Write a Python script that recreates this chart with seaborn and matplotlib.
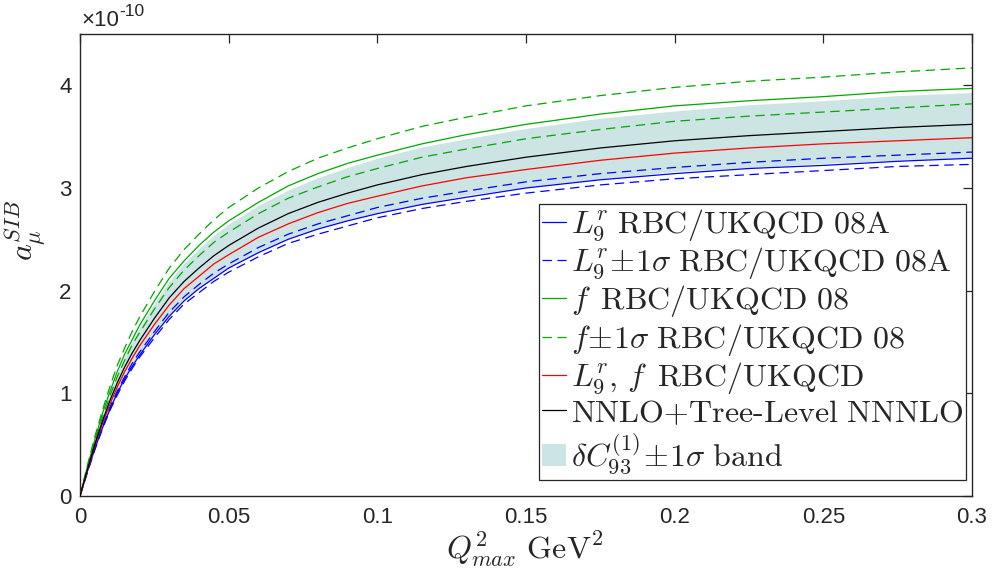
import numpy as np
import pandas as pd
import matplotlib
matplotlib.use("Agg")
import matplotlib.pyplot as plt
import seaborn as sns

# ---- data (values in units of 1e-10) ----
q2 = [0, 0.0025, 0.005, 0.0075, 0.01, 0.0125, 0.015, 0.0175, 0.02, 0.025,
      0.03, 0.035, 0.04, 0.045, 0.05, 0.06, 0.07, 0.08, 0.09, 0.1,
      0.115, 0.13, 0.15, 0.175, 0.2, 0.225, 0.25, 0.275, 0.3]
nnlo = [0, 0.26, 0.505, 0.725, 0.925, 1.10, 1.255, 1.39, 1.51, 1.73,
        1.93, 2.09, 2.22, 2.34, 2.44, 2.61, 2.75, 2.86, 2.95, 3.03,
        3.13, 3.21, 3.30, 3.39, 3.46, 3.51, 3.55, 3.59, 3.62]
f_plus = [0, 0.30, 0.58, 0.83, 1.06, 1.27, 1.44, 1.60, 1.74, 1.99,
          2.22, 2.40, 2.55, 2.69, 2.81, 3.00, 3.16, 3.29, 3.39, 3.48,
          3.60, 3.69, 3.80, 3.90, 3.98, 4.04, 4.08, 4.13, 4.17]
f_central = [0, 0.285, 0.55, 0.80, 1.01, 1.21, 1.38, 1.52, 1.66, 1.90,
             2.12, 2.29, 2.44, 2.57, 2.68, 2.86, 3.02, 3.14, 3.24, 3.32,
             3.43, 3.52, 3.62, 3.72, 3.80, 3.85, 3.89, 3.94, 3.97]
band_hi = [0, 0.28, 0.55, 0.79, 1.00, 1.19, 1.36, 1.51, 1.64, 1.88,
           2.09, 2.27, 2.41, 2.54, 2.65, 2.83, 2.98, 3.10, 3.20, 3.29,
           3.40, 3.48, 3.58, 3.68, 3.75, 3.81, 3.85, 3.90, 3.93]
f_minus = [0, 0.27, 0.53, 0.76, 0.97, 1.16, 1.32, 1.47, 1.59, 1.82,
           2.03, 2.20, 2.34, 2.47, 2.57, 2.75, 2.90, 3.01, 3.11, 3.19,
           3.30, 3.38, 3.48, 3.57, 3.65, 3.70, 3.74, 3.78, 3.82]
l9_f = [0, 0.25, 0.49, 0.70, 0.89, 1.06, 1.21, 1.34, 1.46, 1.67,
        1.86, 2.02, 2.14, 2.26, 2.35, 2.52, 2.65, 2.76, 2.85, 2.92,
        3.02, 3.10, 3.18, 3.27, 3.34, 3.39, 3.43, 3.46, 3.49]
l9_plus = [0, 0.24, 0.47, 0.67, 0.86, 1.02, 1.16, 1.29, 1.40, 1.60,
           1.79, 1.94, 2.06, 2.17, 2.26, 2.42, 2.55, 2.65, 2.73, 2.81,
           2.90, 2.97, 3.06, 3.14, 3.20, 3.25, 3.29, 3.32, 3.35]
band_lo = [0, 0.24, 0.46, 0.66, 0.84, 1.00, 1.14, 1.27, 1.38, 1.58,
           1.76, 1.91, 2.02, 2.13, 2.23, 2.38, 2.51, 2.61, 2.69, 2.76,
           2.85, 2.93, 3.01, 3.09, 3.16, 3.20, 3.24, 3.27, 3.30]
l9_central = [0, 0.24, 0.46, 0.66, 0.84, 1.00, 1.14, 1.26, 1.37, 1.57,
              1.75, 1.90, 2.02, 2.12, 2.22, 2.37, 2.50, 2.60, 2.68, 2.75,
              2.84, 2.91, 3.00, 3.08, 3.14, 3.19, 3.22, 3.26, 3.29]
l9_minus = [0, 0.23, 0.45, 0.65, 0.83, 0.98, 1.12, 1.24, 1.35, 1.54,
            1.72, 1.87, 1.98, 2.09, 2.18, 2.33, 2.46, 2.55, 2.63, 2.71,
            2.80, 2.87, 2.95, 3.03, 3.09, 3.13, 3.17, 3.21, 3.23]

xticks = [0, 0.05, 0.1, 0.15, 0.2, 0.25, 0.3]
xticklabels = ["0", "0.05", "0.1", "0.15", "0.2", "0.25", "0.3"]
yticks = [0, 1, 2, 3, 4]
yticklabels = ["0", "1", "2", "3", "4"]

labels = [
    r"$L_9^r\ \mathrm{RBC/UKQCD\ 08A}$",
    r"$L_9^r\!\pm\!1\sigma\ \mathrm{RBC/UKQCD\ 08A}$",
    r"$f\,\ \mathrm{RBC/UKQCD\ 08}$",
    r"$f\!\pm\!1\sigma\ \mathrm{RBC/UKQCD\ 08}$",
    r"$L_9^r,\,f\,\ \mathrm{RBC/UKQCD}$",
    r"$\mathrm{NNLO}{+}\mathrm{Tree}\text{-}\mathrm{Level\ NNNLO}$",
    r"$\delta C_{93}^{(1)}\!\pm\!1\sigma\ \mathrm{band}$",
]

sns.set_theme(style="white")
plt.rcParams["font.family"] = ["Liberation Sans", "DejaVu Sans"]
plt.rcParams["mathtext.fontset"] = "cm"

BLUE = "#0000ff"
GREEN = "#00a800"
RED = "#ff0000"
BLACK = "#000000"
BAND = "#cce4e3"
AXC = "#262626"

fig = plt.figure(figsize=(9.93, 5.79), dpi=100)
ax = fig.add_axes([80 / 993, 1 - 496 / 579, 892 / 993, 462 / 579])

lw = 0.9
dash = (0, (7.5, 4.5))

band = ax.fill_between(q2, band_lo, band_hi, color=BAND, linewidth=0, zorder=1)

def line(y, color, ls):
    sns.lineplot(x=q2, y=y, ax=ax, color=color, linewidth=lw, linestyle=ls,
                 zorder=3, legend=False)
    return ax.lines[-1]

h1 = line(l9_central, BLUE, "-")
h2 = line(l9_plus, BLUE, dash)
line(l9_minus, BLUE, dash)
h3 = line(f_central, GREEN, "-")
h4 = line(f_plus, GREEN, dash)
line(f_minus, GREEN, dash)
h5 = line(l9_f, RED, "-")
h6 = line(nnlo, BLACK, "-")

ax.set_xlim(0, 0.3)
ax.set_ylim(0, 4.5)
ax.set_xticks(xticks)
ax.set_xticklabels(xticklabels)
ax.set_yticks(yticks)
ax.set_yticklabels(yticklabels)
ax.tick_params(direction="in", length=6.5, width=0.9, colors=AXC,
               labelsize=16, top=True, right=True, pad=6)
ax.tick_params(axis="x", pad=8)
for s in ax.spines.values():
    s.set_color(AXC)
    s.set_linewidth(1.0)

ax.set_xlabel(r"$Q^2_{max}\ \mathrm{GeV}^2$", fontsize=23)
ax.xaxis.set_label_coords(0.499, -0.072)
ax.set_ylabel(r"$a_\mu^{SIB}$", fontsize=23)
ax.yaxis.set_label_coords(-0.036, 0.574)

t1 = ax.text(0.002, 1.006, "\u00d710", transform=ax.transAxes, fontsize=16,
             color=AXC, ha="left", va="bottom")
ax.annotate("-10", xy=(1.0, 0.6), xycoords=t1, fontsize=12.5, color=AXC,
            ha="left", va="bottom")

leg = ax.legend([h1, h2, h3, h4, h5, h6, band], labels,
                loc="lower right", bbox_to_anchor=(0.9935, 0.035),
                fontsize=23, frameon=True, fancybox=False, framealpha=1,
                edgecolor=AXC, handlelength=0.75, handletextpad=0.15,
                labelspacing=0.08, borderpad=0.1, borderaxespad=0)
leg.get_frame().set_linewidth(0.9)
leg.set_zorder(5)

fig.savefig("out.png", dpi=100)
